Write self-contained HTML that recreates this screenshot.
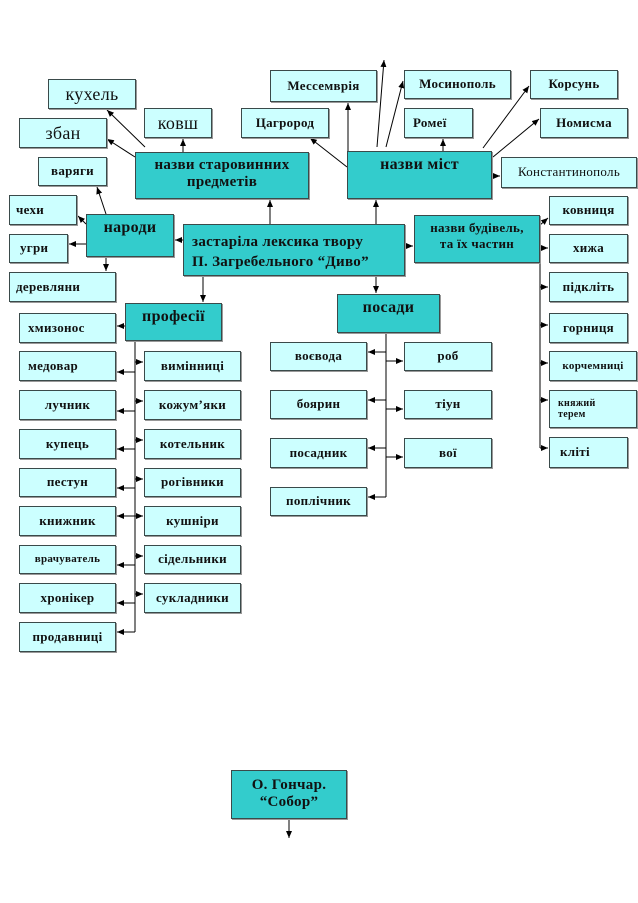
<!DOCTYPE html>
<html><head><meta charset="utf-8"><style>
body{margin:0;width:638px;height:903px;background:#fff;position:relative;overflow:hidden;font-family:"Liberation Serif",serif}
.b{position:absolute;box-sizing:border-box;background:#ccffff;border:1px solid #3a4a4a;box-shadow:1px 1px 0 #999;font-weight:bold;font-size:13px;color:#111;display:flex;align-items:center;justify-content:center;text-align:center;line-height:1.15;letter-spacing:0.3px}
.t{background:#33cccc;font-size:16px;align-items:flex-start;padding-top:4px}
.n{font-weight:normal}
svg{position:absolute;left:0;top:0}
</style></head><body>
<svg width="638" height="903">
<defs><marker id="a" markerWidth="8" markerHeight="8" refX="7" refY="4" orient="auto" markerUnits="userSpaceOnUse"><path d="M0,1 L7,4 L0,7z" fill="#000"/></marker></defs>
<g stroke="#000" stroke-width="1" fill="none" marker-end="url(#a)">
<line x1="270" y1="224" x2="270" y2="200"/>
<line x1="376" y1="224" x2="376" y2="200"/>
<line x1="183" y1="240" x2="175" y2="240"/>
<line x1="405" y1="246" x2="413" y2="246"/>
<line x1="376" y1="276" x2="376" y2="293"/>
<line x1="203" y1="276" x2="203" y2="302"/>
<line x1="145" y1="147" x2="107" y2="110"/>
<line x1="135" y1="157" x2="107" y2="139"/>
<line x1="183" y1="152" x2="183" y2="139"/>
<line x1="106" y1="214" x2="97" y2="187"/>
<line x1="86" y1="224" x2="78" y2="216"/>
<line x1="86" y1="244" x2="69" y2="244"/>
<line x1="106" y1="257" x2="106" y2="271"/>
<line x1="347" y1="167" x2="310" y2="138"/>
<line x1="348" y1="151" x2="348" y2="103"/>
<line x1="377" y1="147" x2="384" y2="60"/>
<line x1="386" y1="147" x2="403" y2="81"/>
<line x1="443" y1="151" x2="443" y2="139"/>
<line x1="483" y1="148" x2="529" y2="86"/>
<line x1="493" y1="157" x2="539" y2="119"/>
<line x1="493" y1="176" x2="500" y2="176"/>
<line x1="540" y1="225" x2="548" y2="218"/>
<line x1="540" y1="248" x2="548" y2="248"/>
<line x1="540" y1="287" x2="548" y2="287"/>
<line x1="540" y1="325" x2="548" y2="325"/>
<line x1="540" y1="363" x2="548" y2="363"/>
<line x1="540" y1="400" x2="548" y2="400"/>
<line x1="540" y1="448" x2="548" y2="448"/>
<line x1="386" y1="352" x2="368" y2="352"/>
<line x1="386" y1="400" x2="368" y2="400"/>
<line x1="386" y1="448" x2="368" y2="448"/>
<line x1="386" y1="497" x2="368" y2="497"/>
<line x1="386" y1="361" x2="403" y2="361"/>
<line x1="386" y1="409" x2="403" y2="409"/>
<line x1="386" y1="457" x2="403" y2="457"/>
<line x1="125" y1="326" x2="117" y2="326"/>
<line x1="135" y1="372" x2="117" y2="372"/>
<line x1="135" y1="411" x2="117" y2="411"/>
<line x1="135" y1="449" x2="117" y2="449"/>
<line x1="135" y1="488" x2="117" y2="488"/>
<line x1="135" y1="516" x2="117" y2="516"/>
<line x1="135" y1="565" x2="117" y2="565"/>
<line x1="135" y1="603" x2="117" y2="603"/>
<line x1="135" y1="632" x2="117" y2="632"/>
<line x1="135" y1="362" x2="143" y2="362"/>
<line x1="135" y1="401" x2="143" y2="401"/>
<line x1="135" y1="440" x2="143" y2="440"/>
<line x1="135" y1="479" x2="143" y2="479"/>
<line x1="135" y1="516" x2="143" y2="516"/>
<line x1="135" y1="556" x2="143" y2="556"/>
<line x1="135" y1="594" x2="143" y2="594"/>
<line x1="289" y1="819" x2="289" y2="838"/>
</g>
<g stroke="#000" stroke-width="1">
<line x1="540" y1="263" x2="540" y2="448"/>
<line x1="386" y1="333" x2="386" y2="497"/>
<line x1="135" y1="341" x2="135" y2="632"/>
</g>
</svg>
<div class="b n" style="left:48px;top:79px;width:88px;height:30px;font-size:18px">кухель</div>
<div class="b n" style="left:19px;top:118px;width:88px;height:30px;font-size:18px">збан</div>
<div class="b n" style="left:144px;top:108px;width:68px;height:30px;font-size:18px">ковш</div>
<div class="b" style="left:38px;top:157px;width:69px;height:29px">варяги</div>
<div class="b t" style="left:135px;top:152px;width:174px;height:47px;font-size:15px">назви старовинних<br>предметів</div>
<div class="b" style="left:9px;top:195px;width:68px;height:30px;justify-content:flex-start;padding-left:6px">чехи</div>
<div class="b t" style="left:86px;top:214px;width:88px;height:43px;font-size:16px">народи</div>
<div class="b" style="left:9px;top:234px;width:59px;height:29px;justify-content:flex-start;padding-left:10px">угри</div>
<div class="b" style="left:9px;top:272px;width:107px;height:30px;justify-content:flex-start;padding-left:6px">деревляни</div>
<div class="b t" style="left:183px;top:224px;width:222px;height:52px;font-size:15px;justify-content:flex-start;text-align:left;padding-left:8px;padding-top:8px;line-height:1.3">застаріла лексика твору<br>П. Загребельного “Диво”</div>
<div class="b" style="left:270px;top:70px;width:107px;height:32px">Мессемврія</div>
<div class="b" style="left:241px;top:108px;width:88px;height:30px">Цагрород</div>
<div class="b t" style="left:347px;top:151px;width:145px;height:48px">назви міст</div>
<div class="b" style="left:404px;top:70px;width:107px;height:29px">Мосинополь</div>
<div class="b" style="left:404px;top:108px;width:69px;height:30px;justify-content:flex-start;padding-left:8px">Ромеї</div>
<div class="b" style="left:530px;top:70px;width:88px;height:29px">Корсунь</div>
<div class="b" style="left:540px;top:108px;width:88px;height:30px">Номисма</div>
<div class="b n" style="left:501px;top:157px;width:136px;height:31px">Константинополь</div>
<div class="b t" style="left:414px;top:215px;width:126px;height:48px;font-size:13px;line-height:1.25">назви будівель,<br>та їх частин</div>
<div class="b" style="left:549px;top:196px;width:79px;height:29px">ковниця</div>
<div class="b" style="left:549px;top:234px;width:79px;height:29px">хижа</div>
<div class="b" style="left:549px;top:272px;width:79px;height:30px">підкліть</div>
<div class="b" style="left:549px;top:313px;width:79px;height:30px">горниця</div>
<div class="b" style="left:549px;top:351px;width:88px;height:30px;font-size:11px">корчемниці</div>
<div class="b" style="left:549px;top:390px;width:88px;height:38px;font-size:10px;justify-content:flex-start;text-align:left;padding-left:8px">княжий<br>терем</div>
<div class="b" style="left:549px;top:437px;width:79px;height:31px;justify-content:flex-start;padding-left:10px">кліті</div>
<div class="b t" style="left:337px;top:294px;width:103px;height:39px">посади</div>
<div class="b" style="left:270px;top:342px;width:97px;height:29px">воєвода</div>
<div class="b" style="left:270px;top:390px;width:97px;height:29px">боярин</div>
<div class="b" style="left:270px;top:438px;width:97px;height:30px">посадник</div>
<div class="b" style="left:270px;top:487px;width:97px;height:29px">поплічник</div>
<div class="b" style="left:404px;top:342px;width:88px;height:29px">роб</div>
<div class="b" style="left:404px;top:390px;width:88px;height:29px">тіун</div>
<div class="b" style="left:404px;top:438px;width:88px;height:30px">вої</div>
<div class="b t" style="left:125px;top:303px;width:97px;height:38px">професії</div>
<div class="b" style="left:19px;top:313px;width:97px;height:30px;justify-content:flex-start;padding-left:8px">хмизонос</div>
<div class="b" style="left:19px;top:351px;width:97px;height:30px;justify-content:flex-start;padding-left:8px">медовар</div>
<div class="b" style="left:19px;top:390px;width:97px;height:30px">лучник</div>
<div class="b" style="left:19px;top:429px;width:97px;height:30px">купець</div>
<div class="b" style="left:19px;top:468px;width:97px;height:29px">пестун</div>
<div class="b" style="left:19px;top:506px;width:97px;height:30px">книжник</div>
<div class="b" style="left:19px;top:545px;width:97px;height:29px;font-size:11px">врачуватель</div>
<div class="b" style="left:19px;top:583px;width:97px;height:30px">хронікер</div>
<div class="b" style="left:19px;top:622px;width:97px;height:30px">продавниці</div>
<div class="b" style="left:144px;top:351px;width:97px;height:30px">вимінниці</div>
<div class="b" style="left:144px;top:390px;width:97px;height:30px">кожум’яки</div>
<div class="b" style="left:144px;top:429px;width:97px;height:30px">котельник</div>
<div class="b" style="left:144px;top:468px;width:97px;height:29px">рогівники</div>
<div class="b" style="left:144px;top:506px;width:97px;height:30px">кушніри</div>
<div class="b" style="left:144px;top:545px;width:97px;height:29px">сідельники</div>
<div class="b" style="left:144px;top:583px;width:97px;height:30px">сукладники</div>
<div class="b t" style="left:231px;top:770px;width:116px;height:49px;font-size:15px;padding-top:6px">О. Гончар.<br>“Собор”</div>
</body></html>
